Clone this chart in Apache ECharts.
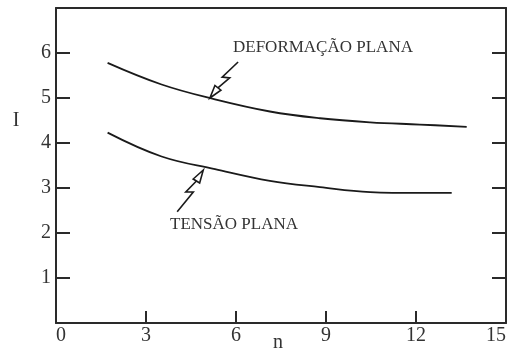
<!DOCTYPE html>
<html>
<head>
<meta charset="utf-8">
<script src="https://cdn.jsdelivr.net/npm/echarts@6/dist/echarts.min.js"></script>
<style>html,body{margin:0;padding:0;background:#fff;}#c{width:509px;height:351px;}</style>
</head>
<body>
<div id="c"></div>
<script>
// Data
var planeStrainN = [1.72, 3.52, 5.3, 7.13, 8.8, 10.47, 12.13, 13.69];
var planeStrainI = [5.78, 5.30, 4.97, 4.70, 4.55, 4.46, 4.41, 4.36];
var planeStressN = [1.72, 3.52, 5.3, 7.13, 8.8, 10.47, 12.13, 13.19];
var planeStressI = [4.23, 3.70, 3.42, 3.16, 3.02, 2.91, 2.89, 2.89];
var xTicks = [0, 3, 6, 9, 12, 15];
var yTicks = [1, 2, 3, 4, 5, 6];
var labelUpper = 'DEFORMAÇÃO PLANA';
var labelLower = 'TENSÃO PLANA';
// annotation anchors in data coordinates: [n, I]
var upperArrowTip = [5.13, 5.0], upperArrowTail = [6.07, 5.8];
var lowerArrowTip = [4.91, 3.40], lowerArrowTail = [4.04, 2.47];
var upperLabelPos = [5.9, 6.13];
var lowerLabelPos = [3.8, 2.18];

function pairs(xs, ys) { return xs.map(function (x, i) { return [x, ys[i]]; }); }

var FONT = '"Liberation Serif", "DejaVu Serif", serif';
var INK = '#2a2a2a';
var chart = echarts.init(document.getElementById('c'), null, {renderer: 'canvas'});

var axisLine = {show: true, onZero: false, lineStyle: {color: INK, width: 2}};
chart.setOption({
  animation: false,
  backgroundColor: '#fff',
  grid: {left: 56, right: 3, top: 8, bottom: 28, containLabel: false},
  xAxis: [{
    type: 'value', min: 0, max: 15, interval: 3, position: 'bottom',
    axisLine: axisLine,
    axisTick: {show: true, inside: true, length: 12, lineStyle: {color: INK, width: 2}},
    axisLabel: {fontFamily: FONT, fontSize: 20, color: '#333', margin: 3,
      alignMinLabel: 'left', alignMaxLabel: 'right',
      formatter: function (v) { return xTicks.indexOf(v) >= 0 ? String(v) : ''; }},
    splitLine: {show: false}
  }, {
    type: 'value', min: 0, max: 15, interval: 3, position: 'top',
    axisLine: axisLine, axisTick: {show: false}, axisLabel: {show: false}, splitLine: {show: false}
  }],
  yAxis: [{
    type: 'value', min: 0, max: 7, interval: 1, position: 'left',
    axisLine: axisLine,
    axisTick: {show: true, inside: true, length: 14, lineStyle: {color: INK, width: 2}},
    axisLabel: {fontFamily: FONT, fontSize: 20, color: '#333', margin: 5,
      formatter: function (v) { return yTicks.indexOf(v) >= 0 ? String(v) : ''; }},
    splitLine: {show: false}
  }, {
    type: 'value', min: 0, max: 7, interval: 1, position: 'right',
    axisLine: axisLine,
    axisTick: {show: true, inside: true, length: 14, lineStyle: {color: INK, width: 2}},
    axisLabel: {show: false}, splitLine: {show: false}
  }],
  series: [{
    name: labelUpper, type: 'line', smooth: 0.4, showSymbol: false,
    xAxisIndex: 0, yAxisIndex: 0,
    data: pairs(planeStrainN, planeStrainI),
    lineStyle: {color: '#1a1a1a', width: 1.8}
  }, {
    name: labelLower, type: 'line', smooth: 0.4, showSymbol: false,
    xAxisIndex: 0, yAxisIndex: 0,
    data: pairs(planeStressN, planeStressI),
    lineStyle: {color: '#1a1a1a', width: 1.8}
  }]
});

function px(p) { return chart.convertToPixel({xAxisIndex: 0, yAxisIndex: 0}, p); }

function arrowShapes(tipData, tailData) {
  var P = px(tipData), Q = px(tailData);
  var dx = Q[0] - P[0], dy = Q[1] - P[1];
  var L = Math.sqrt(dx * dx + dy * dy);
  var ux = dx / L, uy = dy / L, vx = -uy, vy = ux;
  function at(a, b) { return [P[0] + ux * a + vx * b, P[1] + uy * a + vy * b]; }
  var head = [at(0, 0), at(13, 3.8), at(13, -3.8)];
  var shaft = [at(13, 0), at(28, 3.2), at(24, -3.2), at(L, 0)];
  var st = {stroke: '#1a1a1a', lineWidth: 1.6, fill: null};
  return [
    {type: 'polygon', shape: {points: head}, style: {stroke: '#1a1a1a', lineWidth: 1.6, fill: '#fff'}, z: 100},
    {type: 'polyline', shape: {points: shaft}, style: st, z: 100}
  ];
}

var g = [];
g = g.concat(arrowShapes(upperArrowTip, upperArrowTail));
g = g.concat(arrowShapes(lowerArrowTip, lowerArrowTail));
var pu = px(upperLabelPos), pl = px(lowerLabelPos);
g.push({type: 'text', x: pu[0], y: pu[1], z: 100,
  style: {text: labelUpper, font: '17px ' + FONT, fill: '#333', verticalAlign: 'middle'}});
g.push({type: 'text', x: pl[0], y: pl[1], z: 100,
  style: {text: labelLower, font: '17px ' + FONT, fill: '#333', verticalAlign: 'middle'}});
g.push({type: 'text', x: 16, y: 121, z: 100,
  style: {text: 'I', font: '20px ' + FONT, fill: '#333', align: 'center', verticalAlign: 'middle'}});
g.push({type: 'text', x: 278, y: 343, z: 100,
  style: {text: 'n', font: '20px ' + FONT, fill: '#333', align: 'center', verticalAlign: 'middle'}});
chart.setOption({graphic: g});
</script>
</body>
</html>
